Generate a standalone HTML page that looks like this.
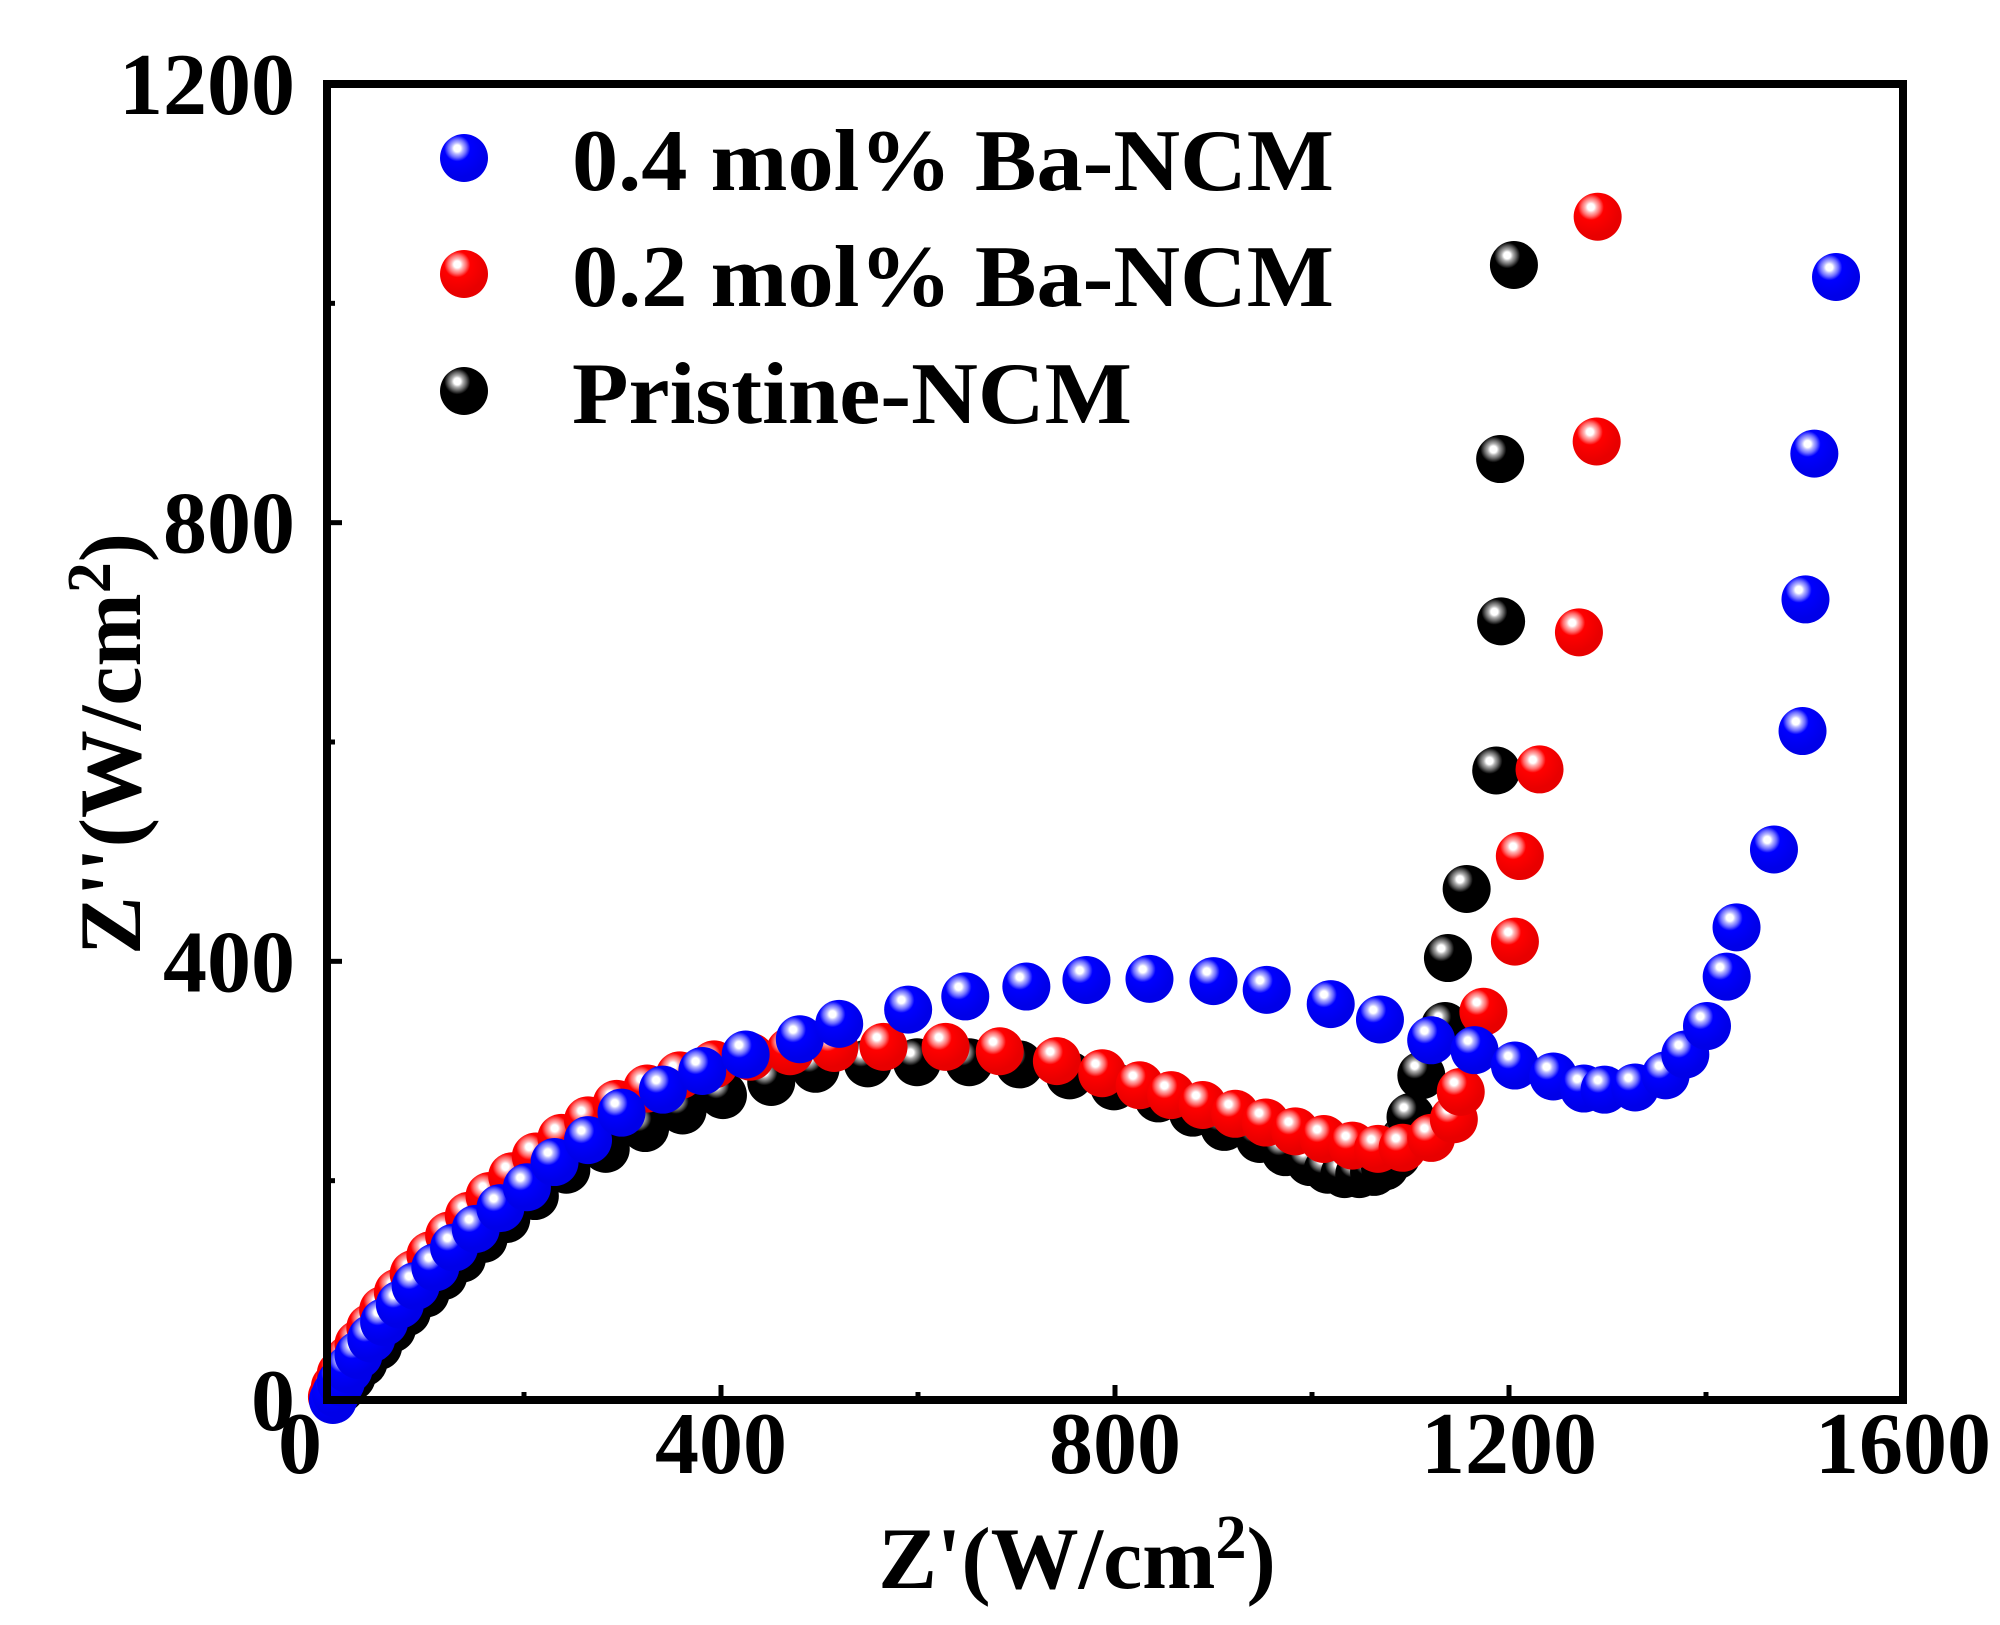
<!DOCTYPE html>
<html><head><meta charset="utf-8"><style>
html,body{margin:0;padding:0;background:#fff}
svg{display:block}
text{font-family:"Liberation Serif",serif;font-weight:bold;fill:#000}
</style></head><body>
<svg id="chart" width="2000" height="1625" viewBox="0 0 2000 1625" xmlns="http://www.w3.org/2000/svg">
<defs>
<radialGradient id="gBlue" cx="0.36" cy="0.3" r="0.6"><stop offset="0" stop-color="#fff"/><stop offset="0.12" stop-color="#fff"/><stop offset="0.2" stop-color="#b8b8ff"/><stop offset="0.32" stop-color="#6a6aff"/><stop offset="0.45" stop-color="#0000ff"/><stop offset="1" stop-color="#0000e8"/></radialGradient>
<radialGradient id="gRed" cx="0.36" cy="0.3" r="0.6"><stop offset="0" stop-color="#fff"/><stop offset="0.12" stop-color="#fff"/><stop offset="0.2" stop-color="#ffb8b8"/><stop offset="0.32" stop-color="#ff6a6a"/><stop offset="0.45" stop-color="#ff0000"/><stop offset="1" stop-color="#e80000"/></radialGradient>
<radialGradient id="gBlack" cx="0.36" cy="0.3" r="0.6"><stop offset="0" stop-color="#fff"/><stop offset="0.12" stop-color="#fff"/><stop offset="0.2" stop-color="#b0b0b0"/><stop offset="0.32" stop-color="#606060"/><stop offset="0.45" stop-color="#000"/><stop offset="1" stop-color="#000"/></radialGradient>
</defs>
<g id="marks"></g>
<g id="axes"></g>
<g id="legend"></g>
</svg>
<script>
const xTicks=[0,400,800,1200,1600];
const yTicks=[0,400,800,1200];
const xMinor=[200,600,1000,1400];
const yMinor=[200,600,1000];
const blackX=[6,14,25,37,52,66,81,100,118,137,159,182,211,243,283,323,361,402,451,496,549,599,652,703,754,799,844,879,911,947,973,998,1016,1033,1048,1063,1074,1086,1094,1100,1111,1135,1138,1157,1187,1192,1191,1205];
const blackY=[2,10,21,34,49,65,80,97,113,129,147,165,186,210,229,248,264,278,290,302,307,308,308,306,296,286,275,262,249,238,226,217,210,206,206,208,213,223,238,258,296,341,403,466,574,710,858,1035];
const redX=[5,8,14,22,32,44,57,72,88,105,124,144,165,188,212,238,265,294,325,358,393,430,470,515,565,628,683,741,787,825,857,889,922,953,983,1012,1041,1067,1092,1121,1144,1151,1174,1206,1211,1231,1271,1289,1290];
const redY=[3,12,24,37,51,66,82,98,115,132,150,168,186,204,222,239,255,270,284,296,306,313,318,321,322,322,318,309,298,287,278,269,261,253,245,238,232,229,230,239,256,281,354,418,496,575,700,874,1079];
const blueX=[6,9,14,22,32,45,58,74,90,110,129,151,176,203,231,265,299,341,381,425,480,520,590,648,710,771,835,900,954,1019,1069,1121,1165,1206,1245,1276,1297,1328,1359,1379,1401,1421,1431,1469,1498,1501,1510,1532];
const blueY=[0,6,16,28,41,56,71,87,104,121,139,156,175,194,217,237,262,283,300,315,329,343,356,368,377,383,384,382,374,361,347,328,319,305,295,284,283,285,296,315,341,386,431,502,610,730,863,1024];
const legendLabels=["0.4 mol% Ba-NCM","0.2 mol% Ba-NCM","Pristine-NCM"];
const NS="http://www.w3.org/2000/svg";
const X0=327,X1=1903,Y0=1400,Y1=84;
function sx(v){return X0+(v-0)/(1600-0)*(X1-X0);}
function sy(v){return Y0-(v-0)/(1200-0)*(Y0-Y1);}
function mk(tag,attrs,parent){const e=document.createElementNS(NS,tag);for(const k in attrs)e.setAttribute(k,attrs[k]);parent.appendChild(e);return e;}
const marks=document.getElementById('marks');
const series=[["black",blackX,blackY,"gBlack"],["red",redX,redY,"gRed"],["blue",blueX,blueY,"gBlue"]];
series.forEach(s=>{
  const g=mk('g',{},marks);
  
  
  for(let i=0;i<s[1].length;i++){
    const c=mk('circle',{cx:sx(s[1][i]),cy:sy(s[2][i]),r:24,fill:'url(#'+s[3]+')'},g);
    
    
  }
});
const axes=document.getElementById('axes');
const frame=mk('rect',{x:X0,y:Y1,width:X1-X0,height:Y0-Y1,fill:'none',stroke:'#000','stroke-width':8},axes);


xTicks.forEach(v=>{
  const t=mk('line',{x1:sx(v),x2:sx(v),y1:Y0,y2:Y0-15,stroke:'#000','stroke-width':5},axes);
  
  
  const l=mk('text',{x:sx(v)-(v===0?27:0),y:1473,'font-size':88,'text-anchor':'middle'},axes);
  l.textContent=v;
  
  
});
xMinor.forEach(v=>{
  const t=mk('line',{x1:sx(v),x2:sx(v),y1:Y0,y2:Y0-8,stroke:'#000','stroke-width':5},axes);
  
  
});
yTicks.forEach(v=>{
  const t=mk('line',{x1:X0,x2:X0+15,y1:sy(v),y2:sy(v),stroke:'#000','stroke-width':5},axes);
  
  
  const l=mk('text',{x:295,y:sy(v)+30,'font-size':88,'text-anchor':'end'},axes);
  l.textContent=v;
  
  
});
yMinor.forEach(v=>{
  const t=mk('line',{x1:X0,x2:X0+8,y1:sy(v),y2:sy(v),stroke:'#000','stroke-width':5},axes);
  
  
});
const xt=mk('text',{x:1077,y:1588,'font-size':88,'text-anchor':'middle'},axes);
xt.innerHTML="Z'(W/cm<tspan dy='-30' font-size='62'>2</tspan><tspan dy='30'>)</tspan>";


const yt=mk('text',{x:0,y:0,'font-size':88,'text-anchor':'middle',transform:'translate(140,744) rotate(-90)'},axes);
yt.innerHTML="Z''(W/cm<tspan dy='-30' font-size='62'>2</tspan><tspan dy='30'>)</tspan>";


const legend=document.getElementById('legend');
const lg=["gBlue","gRed","gBlack"];
const ly=[158,274,391];
legendLabels.forEach((s,i)=>{
  const g=mk('g',{},legend);
  
  
  mk('circle',{cx:464,cy:ly[i],r:24,fill:'url(#'+lg[i]+')'},g);
  const t=mk('text',{x:572,y:ly[i]+32,'font-size':88,textLength:i<2?762:560,lengthAdjust:'spacingAndGlyphs'},g);
  t.textContent=s;
});
</script>
</body></html>
